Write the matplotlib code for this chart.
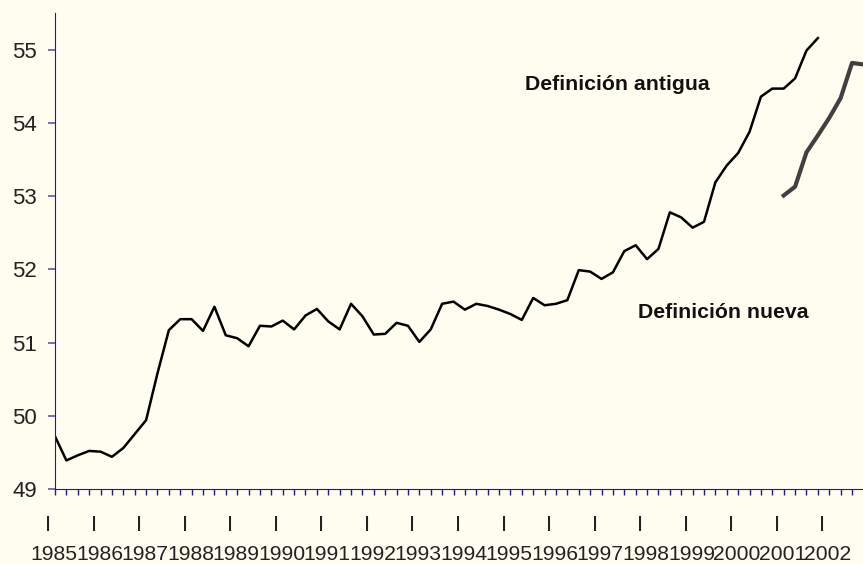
# Tasa de actividad: definicion antigua vs nueva (trimestral)

import numpy as np
import matplotlib.pyplot as plt

# years shown on the axis (one label per first quarter)
years = list(range(1985, 2003))

# old definition, 1985 Q1 .. 2001 Q4
old_def = [49.72, 49.39, 49.46, 49.52, 49.51, 49.44, 49.56, 49.75,
           49.94, 50.58, 51.17, 51.32, 51.32, 51.16, 51.49, 51.10,
           51.06, 50.95, 51.23, 51.22, 51.30, 51.18, 51.37, 51.46,
           51.29, 51.18, 51.53, 51.36, 51.11, 51.12, 51.27, 51.23,
           51.01, 51.18, 51.53, 51.56, 51.45, 51.53, 51.50, 51.45,
           51.39, 51.31, 51.61, 51.51, 51.53, 51.58, 51.99, 51.97,
           51.87, 51.96, 52.25, 52.33, 52.14, 52.28, 52.78, 52.71,
           52.57, 52.65, 53.19, 53.42, 53.59, 53.88, 54.36, 54.47,
           54.47, 54.61, 54.99, 55.16]

# new definition, 2001 Q1 .. 2002 Q4
new_def = [53.01, 53.13, 53.60, 53.83, 54.07, 54.34, 54.82, 54.80]
new_start = 64  # index of 2001 Q1

bg = "#fffdf0"
navy = "#1c1c8c"
tick_font = "Liberation Sans"

x_old = np.arange(len(old_def))
x_new = np.arange(new_start, new_start + len(new_def))

fig = plt.figure(figsize=(8.63, 5.64), dpi=100, facecolor=bg)
ax = fig.add_axes([55 / 863, 75 / 564, (863.4 - 55) / 863, 475.8 / 564])
ax.set_facecolor(bg)

ax.plot(x_old, old_def, color="black", linewidth=1.8)
ax.plot(x_new, new_def, color="#404040", linewidth=3.0)

ax.set_xlim(0, 71)
ax.set_ylim(49, 55.5)

# spines
for s in ["top", "right"]:
    ax.spines[s].set_visible(False)
ax.spines["left"].set_color(navy)
ax.spines["bottom"].set_color(navy)

# y axis
ax.set_yticks(range(49, 56))
ax.tick_params(axis="y", direction="out", length=5, width=1.2, color="#5a5aaa",
               pad=8, labelsize=16, labelcolor="#222222")
for lab in ax.get_yticklabels():
    lab.set_family(tick_font)

# x axis: a tick every quarter, labels drawn by hand
ax.set_xticks(range(0, 71))
ax.set_xticklabels([])
ax.tick_params(axis="x", direction="out", length=4.5, width=1.0, color=navy)

trans = ax.get_xaxis_transform()
for k, yr in enumerate(years):
    ax.text(4 * k - 0.6, -0.0876, "I", transform=trans, ha="center", va="baseline",
            fontsize=16, family=tick_font, color="#222222", clip_on=False)
    ax.text(4 * k - 0.1, -0.150, str(yr), transform=trans, ha="center", va="baseline",
            fontsize=15.2, family=tick_font, color="#222222", clip_on=False)

# series labels
ax.text(41.3, 54.45, "Definición antigua", ha="left", va="baseline",
        fontsize=15.3, fontweight="bold", family="Liberation Sans", color="#111111")
ax.text(51.2, 51.34, "Definición nueva", ha="left", va="baseline",
        fontsize=15.3, fontweight="bold", family="Liberation Sans", color="#111111")

plt.savefig("out.png", dpi=100, facecolor=bg)
